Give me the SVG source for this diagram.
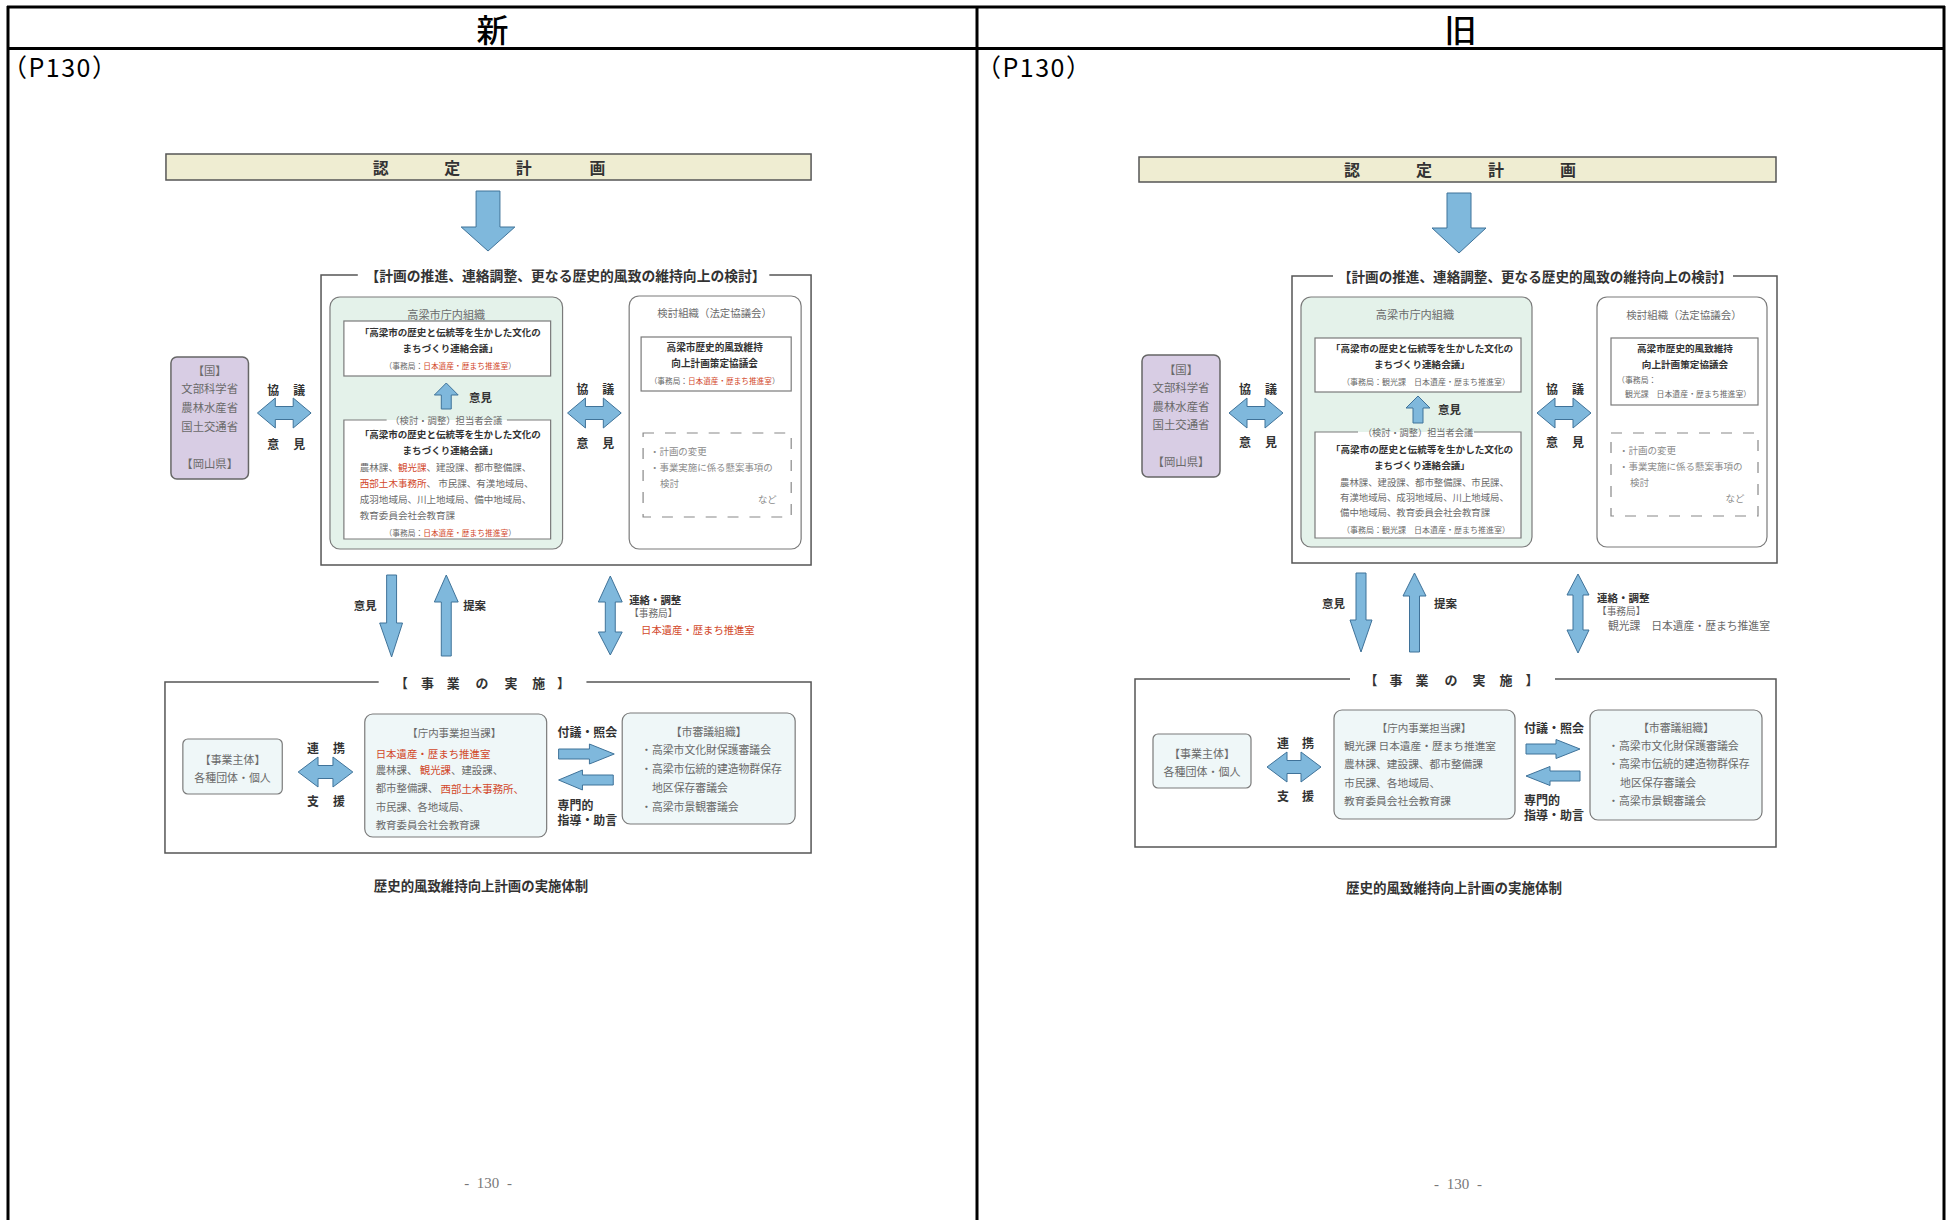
<svg xmlns="http://www.w3.org/2000/svg" width="1951" height="1220" viewBox="0 0 1951 1220">
<style>
text{font-family:"Noto Sans CJK JP","Noto Sans CJK SC",sans-serif;dominant-baseline:central}
.c{text-anchor:middle}
.g{fill:#6a6a6a;font-weight:400}
.b{fill:#333;font-weight:700}
.r{fill:#d2482a}
.k{fill:#8a8a8a}
.arr{fill:#7fb8dc;stroke:#3f7299;stroke-width:1}
.frame{fill:none;stroke:#555;stroke-width:1.5}
.box{stroke:#7a7a7a;stroke-width:1.2}
.green{fill:#e4f2ea}
.lb{fill:#eff7f8}
.wh{fill:#fff}
.pur{fill:#d8cde4;stroke:#666;stroke-width:1.5}
.dash{fill:none;stroke:#888;stroke-width:1.2;stroke-dasharray:11 11}
.bar{fill:#efedd2;stroke:#555;stroke-width:1.5}
.tbl{stroke:#000;stroke-width:3;fill:none}
.pg{font-family:"Liberation Serif",serif;fill:#777;font-size:15px;word-spacing:4px}
.p130{font-size:25px;fill:#000;letter-spacing:1.5px}
</style>

<g id="table">
<line class="tbl" x1="7" y1="7" x2="1945" y2="7"/>
<line class="tbl" x1="8" y1="6" x2="8" y2="1220"/>
<line class="tbl" x1="1944" y1="6" x2="1944" y2="1220"/>
<line class="tbl" x1="977" y1="6" x2="977" y2="1220"/>
<line class="tbl" x1="7" y1="48.5" x2="1945" y2="48.5"/>
<text x="492.5" y="28" class="c" style="font-size:32px;fill:#000;font-weight:500">新</text>
<text x="1460.5" y="28" class="c" style="font-size:32px;fill:#000;font-weight:500">旧</text>
<text x="2" y="66" class="p130">（P130）</text>
<text x="976" y="66" class="p130">（P130）</text>
</g>

<!-- ===================== LEFT (新) ===================== -->
<g id="left-page" transform="matrix(0.994,0,0,1,0.96,0)">
<g id="L-nintei">
<rect class="bar" x="166" y="154" width="649" height="26"/>
<text class="b c" x="382 454 526 600" y="167" style="font-size:16px">認定計画</text>
</g>

<g id="L-frame-top">
<path class="frame" d="M359,275 H322 V565 H815 V275 H773"/>
<text class="b c" x="568" y="275" style="font-size:13.9px">【計画の推進、連絡調整、更なる歴史的風致の維持向上の検討】</text>
</g>

<g id="L-kuni">
<rect class="pur" x="171" y="357" width="78" height="122" rx="6"/>
<text class="g c" x="210" y="370" style="font-size:11.4px">【国】</text>
<text class="g c" x="210" y="388" style="font-size:11.4px">文部科学省</text>
<text class="g c" x="210" y="407" style="font-size:11.4px">農林水産省</text>
<text class="g c" x="210" y="426" style="font-size:11.4px">国土交通省</text>
<text class="g c" x="210" y="463" style="font-size:11.4px">【岡山県】</text>
</g>

<g id="L-chonai">
<rect class="box green" x="331" y="297" width="234" height="252" rx="10"/>
<text class="g c" x="448" y="314" style="font-size:11.2px">高梁市庁内組織</text>
<rect class="box wh" x="345" y="321" width="208" height="55"/>
<text class="b c" x="452" y="332" style="font-size:9.6px">「高梁市の歴史と伝統等を生かした文化の</text>
<text class="b c" x="452" y="348" style="font-size:9.6px">まちづくり連絡会議」</text>
<text class="g c" x="452" y="365" style="font-size:7.8px">（事務局：<tspan class="r">日本遺産・歴まち推進室</tspan>）</text>
<rect class="wh" x="345" y="420" width="208" height="119"/>
<path class="box" fill="none" d="M388,420 H345 V539 H553 V420 H509"/>
<text class="g c" x="448" y="420" style="font-size:9.4px">（検討・調整）担当者会議</text>
<text class="b c" x="452" y="434" style="font-size:9.6px">「高梁市の歴史と伝統等を生かした文化の</text>
<text class="b c" x="452" y="450" style="font-size:9.6px">まちづくり連絡会議」</text>
<text class="g" x="361" y="467" style="font-size:9.6px">農林課、<tspan class="r">観光課</tspan>、建設課、都市整備課、</text>
<text class="g" x="361" y="483" style="font-size:9.6px"><tspan class="r">西部土木事務所</tspan>、 市民課、有漢地域局、</text>
<text class="g" x="361" y="499" style="font-size:9.6px">成羽地域局、川上地域局、備中地域局、</text>
<text class="g" x="361" y="515" style="font-size:9.6px">教育委員会社会教育課</text>
<text class="g c" x="452" y="532" style="font-size:7.8px">（事務局：<tspan class="r">日本遺産・歴まち推進室</tspan>）</text>
</g>

<g id="L-kento">
<rect class="box wh" x="632" y="296" width="173" height="253" rx="10"/>
<text class="g c" x="718" y="313" style="font-size:10.5px">検討組織（法定協議会）</text>
<rect class="box wh" x="644" y="337" width="151" height="54"/>
<text class="b c" x="718" y="347" style="font-size:9.7px">高梁市歴史的風致維持</text>
<text class="b c" x="718" y="363" style="font-size:9.7px">向上計画策定協議会</text>
<text class="g c" x="718" y="380" style="font-size:7.7px">（事務局：<tspan class="r">日本遺産・歴まち推進室</tspan>）</text>
<rect class="dash" x="646" y="433" width="149" height="84"/>
<text class="k" x="653" y="451" style="font-size:9.5px">・計画の変更</text>
<text class="k" x="653" y="467" style="font-size:9.5px">・事業実施に係る懸案事項の</text>
<text class="k" x="663" y="483" style="font-size:9.5px">検討</text>
<text class="k c" x="771" y="499" style="font-size:9.5px">など</text>
</g>

<g id="L-jigyo-frame">
<path class="frame" d="M380,682 H165 V853 H815 V682 H589"/>
<text class="b c" x="403 429 455 484 513 541 566" y="682" style="font-size:13px">【事業の実施】</text>
</g>

<g id="L-shutai">
<rect class="box lb" x="183" y="739" width="100" height="55" rx="5"/>
<text class="g c" x="233" y="759" style="font-size:11px">【事業主体】</text>
<text class="g c" x="233" y="777" style="font-size:11px">各種団体・個人</text>
</g>

<g id="L-tantou">
<rect class="box lb" x="366" y="714" width="183" height="123" rx="8"/>
<text class="g c" x="456" y="732" style="font-size:10.5px">【庁内事業担当課】</text>
<text class="r" x="377" y="753" style="font-size:10.5px">日本遺産・歴まち推進室</text>
<text class="g" x="377" y="769" style="font-size:10.5px">農林課、 <tspan class="r">観光課</tspan>、建設課、</text>
<text class="g" x="377" y="788" style="font-size:10.5px">都市整備課、 <tspan class="r">西部土木事務所、</tspan></text>
<text class="g" x="377" y="806" style="font-size:10.5px">市民課、各地域局、</text>
<text class="g" x="377" y="824" style="font-size:10.5px">教育委員会社会教育課</text>
</g>

<g id="L-shingi">
<rect class="box lb" x="625" y="713" width="174" height="111" rx="8"/>
<text class="g c" x="712" y="731" style="font-size:10.9px">【市審議組織】</text>
<text class="g" x="644" y="749" style="font-size:10.9px">・高梁市文化財保護審議会</text>
<text class="g" x="644" y="768" style="font-size:10.9px">・高梁市伝統的建造物群保存</text>
<text class="g" x="655" y="787" style="font-size:10.9px">地区保存審議会</text>
<text class="g" x="644" y="806" style="font-size:10.9px">・高梁市景観審議会</text>
</g>

<g id="L-caption">
<text class="b c" x="483" y="885" style="font-size:13.5px">歴史的風致維持向上計画の実施体制</text>
<text class="pg c" x="490" y="1183">- 130 -</text>
</g>

<g id="L-connectors">
<polygon class="arr" points="478,191 502,191 502,227 517,227 490,251 463,227 478,227"/>
<polygon class="arr" points="443,409 453,409 453,395 460,395 448,383 436,395 443,395"/>
<text class="b" x="471" y="397" style="font-size:11.5px">意見</text>
<polygon class="arr" points="258,413 276,398 276,406.5 294,406.5 294,398 312,413 294,428 294,419.5 276,419.5 276,428"/>
<text class="b c" x="274 300" y="389" style="font-size:12px">協議</text>
<text class="b c" x="274 300" y="443" style="font-size:12px">意見</text>
<polygon class="arr" points="570,413 588,398 588,406.5 606,406.5 606,398 624,413 606,428 606,419.5 588,419.5 588,428"/>
<text class="b c" x="585 611" y="388" style="font-size:12px">協議</text>
<text class="b c" x="585 611" y="442" style="font-size:12px">意見</text>
<polygon class="arr" points="388,575 398,575 398,623 404,623 393,657 381,623 388,623"/>
<text class="b" x="355" y="605" style="font-size:11.5px">意見</text>
<polygon class="arr" points="448,575 460,602 453,602 453,656 443,656 443,602 436,602"/>
<text class="b" x="465" y="605" style="font-size:11.5px">提案</text>
<polygon class="arr" points="613,576 625,602 618,602 618,632 625,632 613,655 601,632 608,632 608,602 601,602"/>
<text class="b" x="632" y="600" style="font-size:10.5px">連絡・調整</text>
<text class="g" x="632" y="613" style="font-size:9.7px">【事務局】</text>
<text class="r" x="644" y="629" style="font-size:10.4px">日本遺産・歴まち推進室</text>
<polygon class="arr" points="299,772 319,757 319,765.5 334,765.5 334,757 354,772 334,787 334,778.5 319,778.5 319,787"/>
<text class="b c" x="314 340" y="747" style="font-size:12px">連携</text>
<text class="b c" x="314 340" y="800" style="font-size:12px">支援</text>
<polygon class="arr" points="561,749 592,749 592,744 617,754 592,764 592,759 561,759"/>
<text class="b" x="560" y="731" style="font-size:12px">付議・照会</text>
<polygon class="arr" points="616,775 585,775 585,770 561,780 585,790 585,785 616,785"/>
<text class="b" x="560" y="804" style="font-size:12px">専門的</text>
<text class="b" x="560" y="819" style="font-size:12px">指導・助言</text>
</g>
</g>

<!-- ===================== RIGHT (旧) ===================== -->
<g id="right-page">
<g id="R-nintei">
<rect class="bar" x="1139" y="157" width="637" height="25"/>
<text class="b c" x="1352 1424 1496 1568" y="169" style="font-size:16px">認定計画</text>
</g>

<g id="R-frame-top">
<path class="frame" d="M1333,276 H1292 V563 H1777 V276 H1733"/>
<text class="b c" x="1535" y="276" style="font-size:13.6px">【計画の推進、連絡調整、更なる歴史的風致の維持向上の検討】</text>
</g>

<g id="R-kuni">
<rect class="pur" x="1142" y="355" width="78" height="122" rx="6"/>
<text class="g c" x="1181" y="369" style="font-size:11.4px">【国】</text>
<text class="g c" x="1181" y="387" style="font-size:11.4px">文部科学省</text>
<text class="g c" x="1181" y="406" style="font-size:11.4px">農林水産省</text>
<text class="g c" x="1181" y="424" style="font-size:11.4px">国土交通省</text>
<text class="g c" x="1181" y="461" style="font-size:11.4px">【岡山県】</text>
</g>

<g id="R-chonai">
<rect class="box green" x="1301" y="297" width="231" height="250" rx="10"/>
<text class="g c" x="1415" y="314" style="font-size:11.2px">高梁市庁内組織</text>
<rect class="box wh" x="1315" y="338" width="206" height="54"/>
<text class="b c" x="1422" y="348" style="font-size:9.6px">「高梁市の歴史と伝統等を生かした文化の</text>
<text class="b c" x="1422" y="364" style="font-size:9.6px">まちづくり連絡会議」</text>
<text class="g c" x="1426" y="381" style="font-size:8px">（事務局：観光課　日本遺産・歴まち推進室）</text>
<rect class="wh" x="1315" y="432" width="206" height="106"/>
<path class="box" fill="none" d="M1358,432 H1315 V538 H1521 V432 H1474"/>
<text class="g c" x="1418" y="432" style="font-size:9.2px">（検討・調整）担当者会議</text>
<text class="b c" x="1422" y="449" style="font-size:9.6px">「高梁市の歴史と伝統等を生かした文化の</text>
<text class="b c" x="1422" y="465" style="font-size:9.6px">まちづくり連絡会議」</text>
<text class="g" x="1340" y="482" style="font-size:9.4px">農林課、建設課、都市整備課、市民課、</text>
<text class="g" x="1340" y="497" style="font-size:9.4px">有漢地域局、成羽地域局、川上地域局、</text>
<text class="g" x="1340" y="512" style="font-size:9.4px">備中地域局、教育委員会社会教育課</text>
<text class="g c" x="1426" y="529" style="font-size:8px">（事務局：観光課　日本遺産・歴まち推進室）</text>
</g>

<g id="R-kento">
<rect class="box wh" x="1597" y="297" width="170" height="250" rx="10"/>
<text class="g c" x="1684" y="314" style="font-size:10.5px">検討組織（法定協議会）</text>
<rect class="box wh" x="1611" y="338" width="147" height="67"/>
<text class="b c" x="1685" y="348" style="font-size:9.6px">高梁市歴史的風致維持</text>
<text class="b c" x="1685" y="364" style="font-size:9.6px">向上計画策定協議会</text>
<text class="g" x="1617" y="379" style="font-size:7.9px">（事務局：</text>
<text class="g" x="1625" y="393" style="font-size:7.9px">観光課　日本遺産・歴まち推進室）</text>
<rect class="dash" x="1611" y="433" width="147" height="83"/>
<text class="k" x="1619" y="450" style="font-size:9.5px">・計画の変更</text>
<text class="k" x="1619" y="466" style="font-size:9.5px">・事業実施に係る懸案事項の</text>
<text class="k" x="1630" y="482" style="font-size:9.5px">検討</text>
<text class="k c" x="1735" y="498" style="font-size:9.5px">など</text>
</g>

<g id="R-jigyo-frame">
<path class="frame" d="M1350,679 H1135 V847 H1776 V679 H1555"/>
<text class="b c" x="1371 1396 1422 1451 1479 1506 1532" y="679" style="font-size:13px">【事業の実施】</text>
</g>

<g id="R-shutai">
<rect class="box lb" x="1153" y="734" width="98" height="54" rx="5"/>
<text class="g c" x="1202" y="753" style="font-size:11px">【事業主体】</text>
<text class="g c" x="1202" y="771" style="font-size:11px">各種団体・個人</text>
</g>

<g id="R-tantou">
<rect class="box lb" x="1334" y="710" width="181" height="109" rx="8"/>
<text class="g c" x="1424" y="727" style="font-size:10.5px">【庁内事業担当課】</text>
<text class="g" x="1344" y="745" style="font-size:10.7px">観光課 日本遺産・歴まち推進室</text>
<text class="g" x="1344" y="763" style="font-size:10.7px">農林課、建設課、都市整備課</text>
<text class="g" x="1344" y="782" style="font-size:10.7px">市民課、各地域局、</text>
<text class="g" x="1344" y="800" style="font-size:10.7px">教育委員会社会教育課</text>
</g>

<g id="R-shingi">
<rect class="box lb" x="1590" y="710" width="172" height="110" rx="8"/>
<text class="g c" x="1676" y="727" style="font-size:10.9px">【市審議組織】</text>
<text class="g" x="1608" y="745" style="font-size:10.9px">・高梁市文化財保護審議会</text>
<text class="g" x="1608" y="763" style="font-size:10.9px">・高梁市伝統的建造物群保存</text>
<text class="g" x="1620" y="782" style="font-size:10.9px">地区保存審議会</text>
<text class="g" x="1608" y="800" style="font-size:10.9px">・高梁市景観審議会</text>
</g>

<g id="R-caption">
<text class="b c" x="1454" y="887" style="font-size:13.5px">歴史的風致維持向上計画の実施体制</text>
<text class="pg c" x="1458" y="1184">- 130 -</text>
</g>

<g id="R-connectors">
<polygon class="arr" points="1447,193 1471,193 1471,228 1486,228 1459,253 1432,228 1447,228"/>
<polygon class="arr" points="1413,423 1423,423 1423,408 1430,408 1418,396 1406,408 1413,408"/>
<text class="b" x="1438" y="409" style="font-size:11.5px">意見</text>
<polygon class="arr" points="1229,413 1247,398 1247,406.5 1265,406.5 1265,398 1283,413 1265,428 1265,419.5 1247,419.5 1247,428"/>
<text class="b c" x="1245 1271" y="388" style="font-size:12px">協議</text>
<text class="b c" x="1245 1271" y="441" style="font-size:12px">意見</text>
<polygon class="arr" points="1537,413 1555,398 1555,406.5 1573,406.5 1573,398 1591,413 1573,428 1573,419.5 1555,419.5 1555,428"/>
<text class="b c" x="1552 1578" y="388" style="font-size:12px">協議</text>
<text class="b c" x="1552 1578" y="441" style="font-size:12px">意見</text>
<polygon class="arr" points="1356,573 1366,573 1366,620 1372,620 1361,652 1350,620 1356,620"/>
<text class="b" x="1322" y="603" style="font-size:11.5px">意見</text>
<polygon class="arr" points="1414.5,573 1426,596 1419.5,596 1419.5,652 1409.5,652 1409.5,596 1403,596"/>
<text class="b" x="1434" y="603" style="font-size:11.5px">提案</text>
<polygon class="arr" points="1578,574 1589,595 1583,595 1583,630 1589,630 1578,653 1567,630 1573,630 1573,595 1567,595"/>
<text class="b" x="1597" y="597" style="font-size:10.5px">連絡・調整</text>
<text class="g" x="1597" y="611" style="font-size:9.7px">【事務局】</text>
<text class="g" x="1608" y="625" style="font-size:10.8px">観光課　日本遺産・歴まち推進室</text>
<polygon class="arr" points="1267,767 1287,752 1287,760.5 1301,760.5 1301,752 1321,767 1301,782 1301,773.5 1287,773.5 1287,782"/>
<text class="b c" x="1283 1308" y="742" style="font-size:12px">連携</text>
<text class="b c" x="1283 1308" y="795" style="font-size:12px">支援</text>
<polygon class="arr" points="1526,744 1556,744 1556,739.5 1580,749 1556,758.5 1556,754 1526,754"/>
<text class="b" x="1524" y="727" style="font-size:12px">付議・照会</text>
<polygon class="arr" points="1580,771 1550,771 1550,766.5 1526,776 1550,785.5 1550,781 1580,781"/>
<text class="b" x="1524" y="799" style="font-size:12px">専門的</text>
<text class="b" x="1524" y="814" style="font-size:12px">指導・助言</text>
</g>
</g>
</svg>
